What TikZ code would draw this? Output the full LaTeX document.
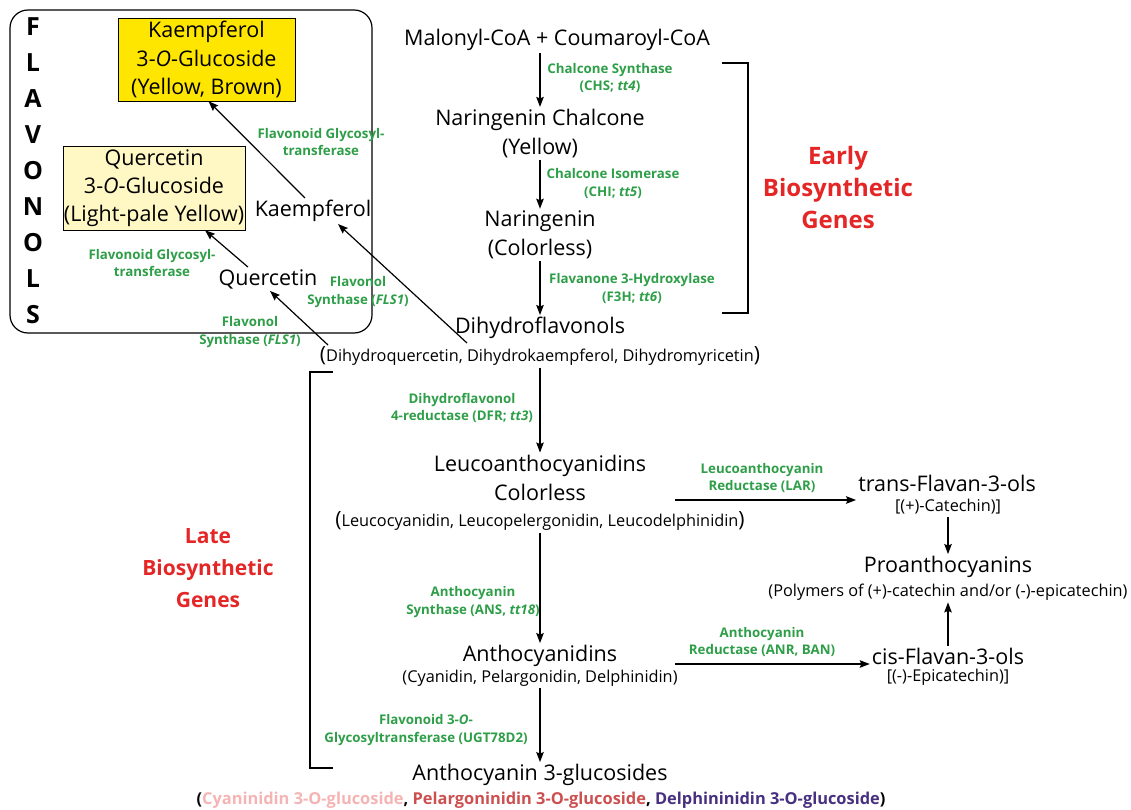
\documentclass[tikz,border=0pt]{standalone}
\usepackage{fontspec}
\setmainfont{Open Sans}
\usetikzlibrary{arrows.meta, positioning, calc}
\definecolor{enzgreen}{RGB}{46,158,72}
\definecolor{genered}{RGB}{228,38,38}
\definecolor{kaemyellow}{RGB}{255,230,0}
\definecolor{quercyellow}{RGB}{255,248,196}
\definecolor{cyanpink}{RGB}{245,180,180}
\definecolor{pelared}{RGB}{205,80,80}
\definecolor{delphpurple}{RGB}{72,48,128}
\newcommand{\bracL}{{\fontsize{21}{21}\selectfont(}}
\newcommand{\bracR}{{\fontsize{21}{21}\selectfont)}}

\begin{document}
\begin{tikzpicture}[x=1pt, y=-1pt,
  arrow/.style={-{Stealth[length=10pt, width=7.5pt, inset=1.5pt]}, line width=1.2pt},
  cmpd/.style={font=\fontsize{21.5}{29}\selectfont, align=center, inner sep=2pt},
  sub/.style={font=\fontsize{16.3}{18}\selectfont, inner sep=2pt},
  enz/.style={font=\fontsize{13.3}{17.5}\selectfont\bfseries, text=enzgreen, align=center, inner sep=1pt},
  genes/.style={font=\fontsize{24}{32}\selectfont\bfseries, text=genered, align=center},
  bracket/.style={line width=2.2pt}
]
  \useasboundingbox (0,0) rectangle (1131,810);

  % Flavonols box
  \node[draw, line width=1.2pt, rounded corners=18pt, minimum width=362, minimum height=323] (flavbox) at (191,171.5) {};
  \node[font=\fontsize{25}{36}\selectfont\bfseries, align=center] (flavtitle) at (33,171) {F\\L\\A\\V\\O\\N\\O\\L\\S};

  \node[draw, fill=kaemyellow, cmpd, font=\fontsize{21.5}{28.5}\selectfont, minimum width=177, minimum height=83, inner sep=0pt] (k3g) at (206.5,59.5) {Kaempferol\\3-\textit{O}-Glucoside\\(Yellow, Brown)};
  \node[draw, fill=quercyellow, cmpd, font=\fontsize{21.5}{28}\selectfont, minimum width=182, minimum height=84, inner sep=0pt] (q3g) at (154,188) {Quercetin\\3-\textit{O}-Glucoside\\(Light-pale Yellow)};
  \node[cmpd] (kaem) at (313,211) {Kaempferol};
  \node[cmpd] (querc) at (268,279) {Quercetin};

  \node[enz] (fgt1) at (321,142) {Flavonoid Glycosyl-\\transferase};
  \node[enz] (fgt2) at (152,263) {Flavonoid Glycosyl-\\transferase};
  \node[enz] (fls1a) at (358,292) {Flavonol\\Synthase (\textit{FLS1})};
  \node[enz] (fls1b) at (250,332) {Flavonol\\Synthase (\textit{FLS1})};

  % Early steps
  \node[cmpd] (mal) at (557,40) {Malonyl-CoA + Coumaroyl-CoA};
  \node[cmpd] (nc) at (540,133.5) {Naringenin Chalcone\\(Yellow)};
  \node[cmpd] (nar) at (540,235) {Naringenin\\(Colorless)};
  \node[cmpd] (dhf) at (540,328) {Dihydroflavonols};
  \node[sub] (dhfsub) at (540,356) {\bracL Dihydroquercetin, Dihydrokaempferol, Dihydromyricetin\bracR};

  \node[enz] (chs) at (610,78) {Chalcone Synthase\\(CHS; \textit{tt4})};
  \node[enz] (chi) at (613,183.5) {Chalcone Isomerase\\(CHI; \textit{tt5})};
  \node[enz] (f3h) at (632,288.5) {Flavanone 3-Hydroxylase\\(F3H; \textit{tt6})};

  \draw[bracket] (722,63) -| (748,313) -- (722,313);
  \node[genes] (early) at (838,188) {Early\\Biosynthetic\\Genes};

  % Late steps
  \node[cmpd] (leuco) at (540,477.5) {Leucoanthocyanidins\\Colorless};
  \node[sub] (leucosub) at (540,521) {\bracL Leucocyanidin, Leucopelergonidin, Leucodelphinidin\bracR};
  \node[cmpd] (antho) at (540,656) {Anthocyanidins};
  \node[sub] (anthosub) at (540,678) {(Cyanidin, Pelargonidin, Delphinidin)};
  \node[cmpd] (a3g) at (540,775) {Anthocyanin 3-glucosides};
  \node[sub, font=\fontsize{16.4}{18}\selectfont\bfseries] (a3gsub) at (541,800) {(\textcolor{cyanpink}{Cyaninidin 3-O-glucoside}, \textcolor{pelared}{Pelargoninidin 3-O-glucoside}, \textcolor{delphpurple}{Delphininidin 3-O-glucoside})};

  \node[enz] (dfr) at (462,408) {Dihydroflavonol\\4-reductase (DFR; \textit{tt3})};
  \node[enz] (ans) at (473,602) {Anthocyanin\\Synthase (ANS, \textit{tt18})};
  \node[enz] (ugt) at (426,730) {Flavonoid 3-\textit{O}-\\Glycosyltransferase (UGT78D2)};

  \draw[bracket] (333,372) -| (310,768) -- (333,768);
  \node[genes, font=\fontsize{21}{32}\selectfont\bfseries] (late) at (208,568) {Late\\Biosynthetic\\Genes};

  % Flavan-3-ols
  \node[cmpd] (trans) at (947,483) {trans-Flavan-3-ols};
  \node[sub] (transsub) at (948,507) {[(+)-Catechin)]};
  \node[cmpd] (proan) at (948,567) {Proanthocyanins};
  \node[sub] (proansub) at (948,592) {(Polymers of (+)-catechin and/or (-)-epicatechin)};
  \node[cmpd] (cis) at (948,656) {cis-Flavan-3-ols};
  \node[sub] (cissub) at (948,677) {[(-)-Epicatechin)]};

  \node[enz] (lar) at (762,478) {Leucoanthocyanin\\Reductase (LAR)};
  \node[enz] (anr) at (762,642) {Anthocyanin\\Reductase (ANR, BAN)};

  % Connectors
  \coordinate (kstart) at (467,343);
  \coordinate (qstart) at (328,345);
  \coordinate (larstart) at (675,500);
  \coordinate (anrstart) at (675,664);

  \draw[arrow] (mal.south -| nc.north) -- (nc);
  \draw[arrow] (nc) -- (nar);
  \draw[arrow] (nar) -- (dhf);
  \draw[arrow] (dhfsub) -- (leuco);
  \draw[arrow] (leucosub) -- (antho);
  \draw[arrow] (anthosub) -- (a3g);
  \draw[arrow] (larstart) -- (larstart -| trans.west);
  \draw[arrow] (anrstart) -- (anrstart -| cis.west);
  \draw[arrow] (transsub) -- (proan);
  \draw[arrow] (cis) -- (proansub);
  \draw[arrow] (kstart) -- ([xshift=25pt]kaem.south);
  \draw[arrow] (qstart) -- ([xshift=2pt]querc.south);
  \draw[arrow] ([xshift=-8pt]kaem.north) -- ([xshift=2pt]k3g.south);
  \draw[arrow] ([xshift=-20pt]querc.north) -- ([xshift=51pt]q3g.south);
\end{tikzpicture}
\end{document}
